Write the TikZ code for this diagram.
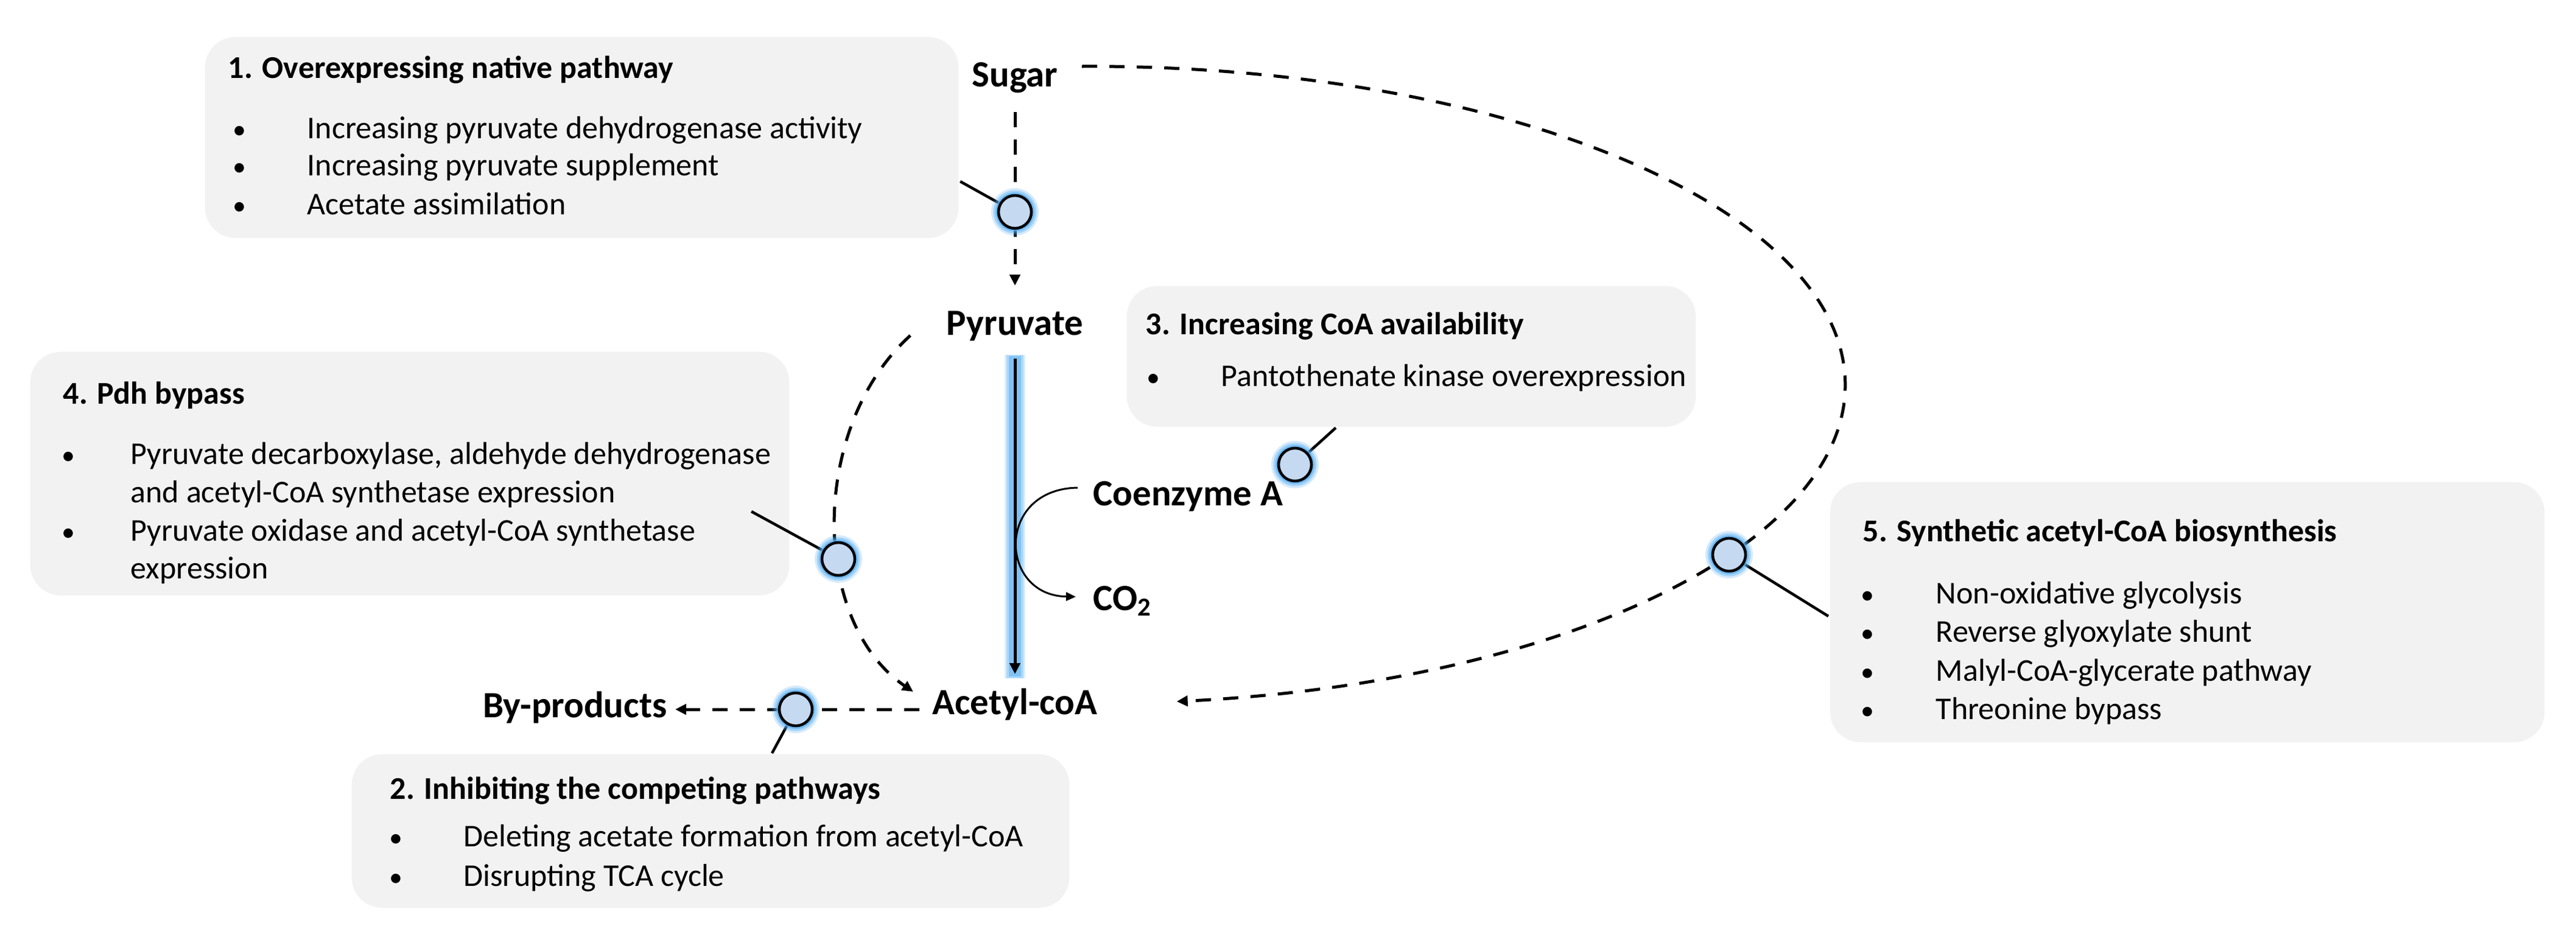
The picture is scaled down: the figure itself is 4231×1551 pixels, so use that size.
\documentclass[tikz,border=0pt]{standalone}
\usepackage{fontspec}
\setmainfont{Carlito}
\usetikzlibrary{arrows.meta,calc}
\definecolor{boxgray}{RGB}{242,242,242}
\definecolor{cfill}{RGB}{197,217,241}
\definecolor{glowc}{RGB}{90,175,242}
\newcommand{\glowdot}[2]{%
  \fill[glowc,opacity=0.25] #2 circle[radius=0.39cm];
  \fill[glowc,opacity=0.4] #2 circle[radius=0.355cm];
  \fill[glowc,opacity=0.7] #2 circle[radius=0.32cm];
  \node[circ] (#1) at #2 {};
}
\begin{document}
\begin{tikzpicture}[x=0.01cm,y=-0.01cm,
  box/.style={fill=boxgray, draw=none, rounded corners=0.5cm, inner sep=0pt, anchor=north west},
  ttl/.style={anchor=base west, inner sep=0pt, font=\fontsize{14.8pt}{17.9pt}\selectfont\bfseries},
  txt/.style={anchor=base west, inner sep=0pt, font=\fontsize{14.8pt}{17.9pt}\selectfont},
  bul/.style={anchor=base, inner sep=0pt, font=\fontsize{12.5pt}{15pt}\selectfont},
  met/.style={inner sep=0pt, font=\fontsize{17.3pt}{20pt}\selectfont\bfseries},
  dsh/.style={line width=0.05cm, dash pattern=on 0.25cm off 0.2cm},
  tip/.style={-{Triangle[length=0.18cm,width=0.17cm]}},
  lnk/.style={line width=0.045cm},
  circ/.style={circle, minimum size=0.54cm, inner sep=0pt, fill=cfill, draw=black, line width=0.045cm},
]
\useasboundingbox (0,0) rectangle (4231,1551);

% boxes
\node[box, minimum width=12.37cm, minimum height=3.30cm] (box1) at (336,60) {};
\node[box, minimum width=11.78cm, minimum height=2.52cm] (box2) at (577,1238) {};
\node[box, minimum width=9.34cm, minimum height=2.31cm] (box3) at (1850,469) {};
\node[box, minimum width=12.46cm, minimum height=4.00cm] (box4) at (49,577) {};
\node[box, minimum width=11.73cm, minimum height=4.27cm] (box5) at (3005,791) {};

% box texts
\node[ttl] (t1) at (374,128) {1. Overexpressing native pathway};
\node[bul] (b1a) at (393,227) {•};
\node[txt] (l1a) at (504,227) {Increasing pyruvate dehydrogenase activity};
\node[bul] (b1b) at (393,288) {•};
\node[txt] (l1b) at (504,288) {Increasing pyruvate supplement};
\node[bul] (b1c) at (393,352) {•};
\node[txt] (l1c) at (504,352) {Acetate assimilation};

\node[ttl] (t2) at (640,1312) {2. Inhibiting the competing pathways};
\node[bul] (b2a) at (650,1390) {•};
\node[txt] (l2a) at (761,1390) {Deleting acetate formation from acetyl-CoA};
\node[bul] (b2b) at (650,1455) {•};
\node[txt] (l2b) at (761,1455) {Disrupting TCA cycle};

\node[ttl] (t3) at (1881,549) {3. Increasing CoA availability};
\node[bul] (b3a) at (1894,634) {•};
\node[txt] (l3a) at (2005,634) {Pantothenate kinase overexpression};

\node[ttl] (t4) at (103,663) {4. Pdh bypass};
\node[bul] (b4a) at (112,762) {•};
\node[txt] (l4a) at (214,762) {Pyruvate decarboxylase, aldehyde dehydrogenase};
\node[txt] (l4b) at (214,825) {and acetyl-CoA synthetase expression};
\node[bul] (b4c) at (112,888) {•};
\node[txt] (l4c) at (214,888) {Pyruvate oxidase and acetyl-CoA synthetase};
\node[txt] (l4d) at (214,950) {expression};

\node[ttl] (t5) at (3059,889) {5. Synthetic acetyl-CoA biosynthesis};
\node[bul] (b5a) at (3067,991) {•};
\node[txt] (l5a) at (3179,991) {Non-oxidative glycolysis};
\node[bul] (b5b) at (3067,1054) {•};
\node[txt] (l5b) at (3179,1054) {Reverse glyoxylate shunt};
\node[bul] (b5c) at (3067,1118) {•};
\node[txt] (l5c) at (3179,1118) {Malyl-CoA-glycerate pathway};
\node[bul] (b5d) at (3067,1181) {•};
\node[txt] (l5d) at (3179,1181) {Threonine bypass};

% metabolites
\node[met, anchor=base] (sugar) at (1667,142) {Sugar};
\node[met, anchor=base] (pyr) at (1667,550) {Pyruvate};
\node[met, anchor=base] (acetyl) at (1667,1173) {Acetyl-coA};
\node[met, anchor=base west] (coa) at (1795,830) {Coenzyme A};
\node[met, anchor=base west] (co2) at (1795,1002) {CO\textsubscript{2}};
\node[met, anchor=base east] (byp) at (1096,1178) {By-products};

% Sugar -> Pyruvate
\draw[dsh,tip] ($(sugar.base)+(0,42)$) -- ($(pyr.base)+(0,-81)$);

% Pyruvate -> Acetyl-coA with glow
\draw[glowc, line width=0.34cm, opacity=0.22] ($(pyr.base)+(0,33)$) -- ($(acetyl.base)+(0,-59)$);
\draw[glowc, line width=0.28cm, opacity=0.35] ($(pyr.base)+(0,33)$) -- ($(acetyl.base)+(0,-59)$);
\draw[glowc, line width=0.20cm, opacity=0.55] ($(pyr.base)+(0,35)$) -- ($(acetyl.base)+(0,-62)$);
\draw[line width=0.05cm, tip] ($(pyr.base)+(0,39)$) -- ($(acetyl.base)+(0,-66)$);

% Coenzyme A -> CO2
\draw[line width=0.03cm, -{Triangle[length=0.16cm,width=0.14cm]}] ($(coa.base west)+(-25,-29)$) .. controls (1635,803) and (1640,978) .. ($(co2.base west)+(-28,-22)$);

% Acetyl-coA -> By-products
\draw[dsh,tip] ($(acetyl.base west)+(-21,-8)$) -- ($(byp.base east)+(13,-13)$);

% Pdh bypass
\draw[dsh,tip] ($(pyr.base west)+(-59,1)$) .. controls (1330,700) and (1330,1020) .. ($(acetyl.base west)+(-31,-37)$);

% Synthetic route
\coordinate (s5start) at ($(sugar.base east)+(39,-33)$);
\draw[dsh,tip] (s5start) arc[start angle=90.6, end angle=-83.4, x radius=12.4cm, y radius=5.23cm];

% links from boxes to circles
\coordinate (k1) at ($(box1.north east)+(2,238)$);
\coordinate (k2) at ($(box2.north west)+(691,-1)$);
\coordinate (k3) at ($(box3.south west)+(344,1)$);
\coordinate (k4) at ($(box4.north east)+(-63,263)$);
\coordinate (k5) at ($(box5.north west)+(-2,221)$);
\draw[lnk] (k1) -- (1667,348);
\draw[lnk] (k2) -- (1307,1165);
\draw[lnk] (k3) -- (2127,763);
\draw[lnk] (k4) -- (1377,918);
\draw[lnk] (k5) -- (2840,911);

% circles
\glowdot{c1}{(1667,348)}
\glowdot{c2}{(1307,1165)}
\glowdot{c3}{(2127,763)}
\glowdot{c4}{(1377,918)}
\glowdot{c5}{(2840,911)}

\end{tikzpicture}
\end{document}
